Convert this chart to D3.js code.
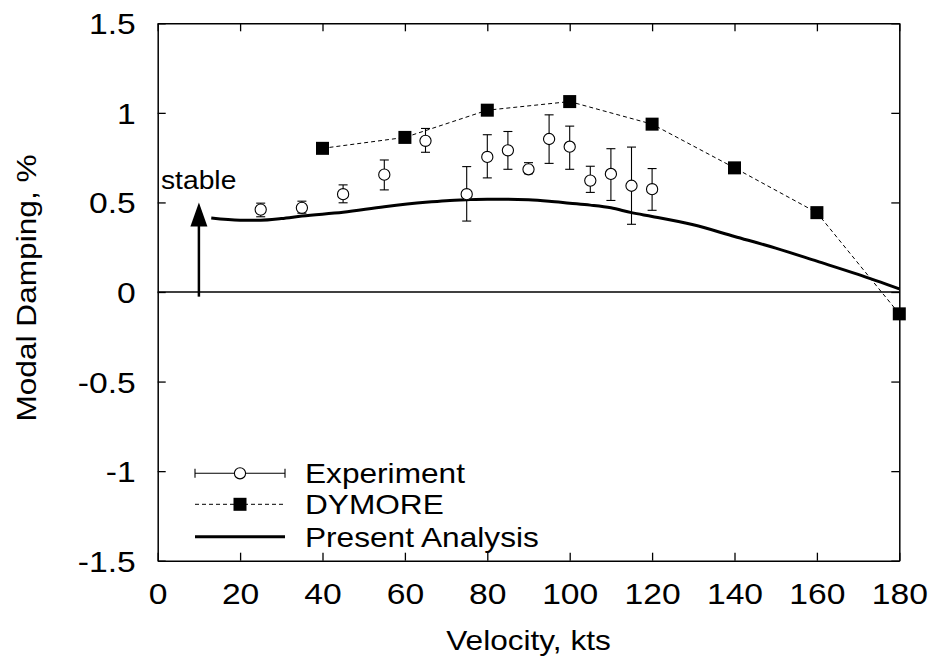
<!DOCTYPE html>
<html>
<head>
<meta charset="utf-8">
<script src="https://cdn.jsdelivr.net/npm/d3@7"></script>
<style>
  html, body { margin: 0; padding: 0; background: #fff; }
  svg { display: block; }
  text { font-family: "Liberation Sans", Arial, Helvetica, sans-serif; fill: #000; }
</style>
</head>
<body>
<svg id="chart" width="929" height="660"></svg>
<script>
// ---------------- data ----------------
const xTicks = [0, 20, 40, 60, 80, 100, 120, 140, 160, 180];
const yTicks = [-1.5, -1, -0.5, 0, 0.5, 1, 1.5];

const expVelocity = [25, 35, 45, 55, 65, 75, 80, 85, 90, 95, 100, 105, 110, 115, 120];
const expDamping  = [0.46, 0.47, 0.546, 0.655, 0.844, 0.546, 0.754, 0.791, 0.685, 0.854, 0.811, 0.622, 0.659, 0.593, 0.574];
const expLow      = [0.42, 0.44, 0.498, 0.57, 0.78, 0.396, 0.637, 0.685, 0.66, 0.718, 0.685, 0.556, 0.511, 0.378, 0.456];
const expHigh     = [0.496, 0.507, 0.598, 0.737, 0.913, 0.70, 0.878, 0.896, 0.722, 0.989, 0.926, 0.702, 0.80, 0.809, 0.689];

const dymVelocity = [40, 60, 80, 100, 120, 140, 160, 180];
const dymDamping  = [0.802, 0.863, 1.015, 1.063, 0.937, 0.693, 0.443, -0.122];

const anaVelocity = [13, 20, 25, 30, 35, 45, 55, 65, 70, 75, 80, 85, 90, 95, 100, 105, 110, 115, 120, 130, 140, 150, 160, 170, 180];
const anaDamping  = [0.413, 0.401, 0.401, 0.41, 0.424, 0.445, 0.476, 0.501, 0.510, 0.515, 0.518, 0.518, 0.515, 0.507, 0.496, 0.485, 0.47, 0.443, 0.422, 0.375, 0.31, 0.245, 0.172, 0.098, 0.017];

const legendLabels = ["Experiment", "DYMORE", "Present Analysis"];
const arrowVelocity = 10, arrowFrom = -0.026, arrowTo = 0.5;

// ---------------- layout ----------------
const svg = d3.select("#chart");
const L = 157.7, R = 899.3, T = 23.3, B = 560.7;
const FS = 28, SX = 1.13;
const TFS = 29, TSX = 1.16;

const x = d3.scaleLinear().domain([0, 180]).range([L, R]);
const y = d3.scaleLinear().domain([-1.5, 1.5]).range([B, T]);

function styleAxis(g) {
  g.select(".domain").attr("stroke", "#000").attr("stroke-width", 1.5);
  g.selectAll(".tick line").attr("stroke", "#000").attr("stroke-width", 1.3);
}

// bottom axis
const gB = svg.append("g").attr("transform", `translate(0,${B})`)
  .call(d3.axisBottom(x).tickValues(xTicks).tickSize(-8).tickSizeOuter(0).tickPadding(22).tickFormat(d => String(d)));
styleAxis(gB);
gB.selectAll(".tick text").attr("font-size", TFS).attr("font-family", null)
  .attr("y", null).attr("dy", null)
  .attr("transform", `translate(0,43) scale(${TSX},1)`);

// top axis
const gT = svg.append("g").attr("transform", `translate(0,${T})`)
  .call(d3.axisTop(x).tickValues(xTicks).tickSize(-8).tickSizeOuter(0).tickFormat(""));
styleAxis(gT);

// left axis
const gL = svg.append("g").attr("transform", `translate(${L},0)`)
  .call(d3.axisLeft(y).tickValues(yTicks).tickSize(-8).tickSizeOuter(0).tickFormat(d => String(d)));
styleAxis(gL);
gL.selectAll(".tick text").attr("font-size", TFS).attr("font-family", null)
  .attr("x", null).attr("dy", null).attr("y", 10.5)
  .attr("transform", `translate(-22,0) scale(${TSX},1)`);

// right axis
const gR = svg.append("g").attr("transform", `translate(${R},0)`)
  .call(d3.axisRight(y).tickValues(yTicks).tickSize(-8).tickSizeOuter(0).tickFormat(""));
styleAxis(gR);

// axis titles
svg.append("text")
  .attr("transform", `translate(${(L + R) / 2},650) scale(${SX},1)`)
  .attr("text-anchor", "middle").attr("font-size", FS).text("Velocity, kts");
svg.append("text")
  .attr("transform", `translate(36,${(T + B) / 2 - 4}) rotate(-90) scale(${SX},1)`)
  .attr("text-anchor", "middle").attr("font-size", FS).text("Modal Damping, %");

// zero line
svg.append("line")
  .attr("x1", x(0)).attr("x2", x(180)).attr("y1", y(0)).attr("y2", y(0))
  .attr("stroke", "#000").attr("stroke-width", 1.5);

// present analysis
const anaData = anaVelocity.map((v, i) => [v, anaDamping[i]]);
svg.append("path").datum(anaData)
  .attr("fill", "none").attr("stroke", "#000").attr("stroke-width", 3)
  .attr("d", d3.line().x(d => x(d[0])).y(d => y(d[1])).curve(d3.curveMonotoneX));

// DYMORE
const dymData = dymVelocity.map((v, i) => [v, dymDamping[i]]);
svg.append("path").datum(dymData)
  .attr("fill", "none").attr("stroke", "#000").attr("stroke-width", 1)
  .attr("stroke-dasharray", "4,3")
  .attr("d", d3.line().x(d => x(d[0])).y(d => y(d[1])));
const SQ = 13;
svg.append("g").selectAll("rect").data(dymData).join("rect")
  .attr("x", d => x(d[0]) - SQ / 2).attr("y", d => y(d[1]) - SQ / 2)
  .attr("width", SQ).attr("height", SQ).attr("fill", "#000");

// Experiment
const expData = expVelocity.map((v, i) => ({ v, d: expDamping[i], lo: expLow[i], hi: expHigh[i] }));
const ge = svg.append("g").attr("stroke", "#000").attr("stroke-width", 1.1);
ge.selectAll("line.bar").data(expData).join("line").attr("class", "bar")
  .attr("x1", d => x(d.v)).attr("x2", d => x(d.v)).attr("y1", d => y(d.lo)).attr("y2", d => y(d.hi));
ge.selectAll("line.capHi").data(expData).join("line").attr("class", "capHi")
  .attr("x1", d => x(d.v) - 4.5).attr("x2", d => x(d.v) + 4.5).attr("y1", d => y(d.hi)).attr("y2", d => y(d.hi));
ge.selectAll("line.capLo").data(expData).join("line").attr("class", "capLo")
  .attr("x1", d => x(d.v) - 4.5).attr("x2", d => x(d.v) + 4.5).attr("y1", d => y(d.lo)).attr("y2", d => y(d.lo));
ge.selectAll("circle").data(expData).join("circle")
  .attr("cx", d => x(d.v)).attr("cy", d => y(d.d)).attr("r", 5.6).attr("fill", "#fff");

// stable arrow
const ax = x(arrowVelocity);
svg.append("line").attr("x1", ax).attr("x2", ax)
  .attr("y1", y(arrowFrom)).attr("y2", y(arrowTo) + 20)
  .attr("stroke", "#000").attr("stroke-width", 2.5);
svg.append("path")
  .attr("d", `M${ax},${y(arrowTo)} L${ax - 8.5},${y(arrowTo) + 24} L${ax + 8.5},${y(arrowTo) + 24} Z`)
  .attr("fill", "#000");
svg.append("text")
  .attr("transform", `translate(161,188.5) scale(${SX},1)`)
  .attr("font-size", 25).text("stable");

// legend
const legY = [473.3, 504.3, 536.7];
const lx1 = 195, lx2 = 285, lmid = 240, ltx = 305;
const lg = svg.append("g");
// experiment
lg.append("line").attr("x1", lx1).attr("x2", lx2).attr("y1", legY[0]).attr("y2", legY[0]).attr("stroke", "#000").attr("stroke-width", 1.1);
[lx1, lx2].forEach(px => lg.append("line").attr("x1", px).attr("x2", px).attr("y1", legY[0] - 4.5).attr("y2", legY[0] + 4.5).attr("stroke", "#000").attr("stroke-width", 1.1));
lg.append("circle").attr("cx", lmid).attr("cy", legY[0]).attr("r", 5.6).attr("fill", "#fff").attr("stroke", "#000").attr("stroke-width", 1.1);
// dymore
lg.append("line").attr("x1", lx1).attr("x2", lx2).attr("y1", legY[1]).attr("y2", legY[1]).attr("stroke", "#000").attr("stroke-width", 1).attr("stroke-dasharray", "4,3");
lg.append("rect").attr("x", lmid - SQ / 2).attr("y", legY[1] - SQ / 2).attr("width", SQ).attr("height", SQ).attr("fill", "#000");
// analysis
lg.append("line").attr("x1", lx1).attr("x2", lx2).attr("y1", legY[2]).attr("y2", legY[2]).attr("stroke", "#000").attr("stroke-width", 3);
legendLabels.forEach((t, i) => {
  lg.append("text").attr("transform", `translate(${ltx},${legY[i] + 10}) scale(${SX},1)`)
    .attr("font-size", FS).text(t);
});
</script>
</body>
</html>
